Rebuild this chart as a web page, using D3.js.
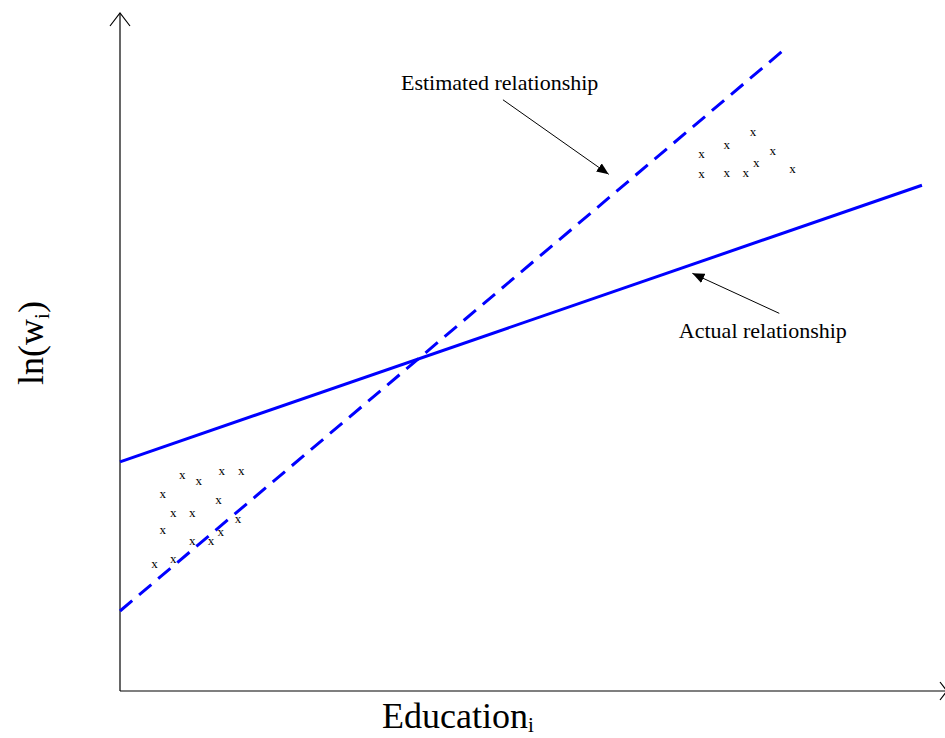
<!DOCTYPE html>
<html>
<head>
  <script src="https://d3js.org/d3.v7.min.js"></script>
  <style>
    body { margin: 0; background: white; }
    svg { display: block; }
    text { font-family: "Liberation Serif", "Times New Roman", serif; fill: #000; }
  </style>
</head>
<body>
  <svg width="945" height="738"></svg>
  <script>
  // data (abstract units: education 0..10, ln(w) 0..10)
  const lowEdu = [0.42, 0.65, 0.52, 0.88, 1.11, 1.23, 1.44, 0.65, 0.88, 1.20, 0.52, 0.76, 0.96, 1.24, 1.48];
  const lowWage = [1.87, 1.94, 2.37, 2.21, 2.21, 2.35, 2.53, 2.63, 2.63, 2.81, 2.91, 3.19, 3.09, 3.25, 3.25];
  const highEdu = [7.72, 7.40, 7.09, 7.96, 7.76, 7.09, 7.40, 7.63, 8.20];
  const highWage = [8.24, 8.06, 7.92, 7.96, 7.79, 7.62, 7.64, 7.64, 7.70];

  const actualLine = [[0, 3.38], [9.78, 7.46]];
  const estimatedLine = [[0, 1.18], [8.09, 9.45]];

  const labels = ["Estimated relationship", "Actual relationship"];
  const labelPos = [[4.63, 8.87], [7.84, 5.21]];
  const arrowFrom = [[4.67, 8.72], [8.04, 5.57]];
  const arrowTo = [[5.96, 7.62], [6.98, 6.16]];

  const svg = d3.select("svg");
  const x = d3.scaleLinear().domain([0, 10]).range([120, 940]);
  const y = d3.scaleLinear().domain([0, 10]).range([691, 13]);

  const defs = svg.append("defs");
  defs.append("marker")
    .attr("id", "head")
    .attr("viewBox", "0 0 12 10")
    .attr("refX", 12).attr("refY", 5)
    .attr("markerWidth", 12).attr("markerHeight", 10)
    .attr("markerUnits", "userSpaceOnUse")
    .attr("orient", "auto")
    .append("path").attr("d", "M0,0 L12,5 L0,10 Z").attr("fill", "#000");

  // axes with open arrowheads
  const ax = svg.append("g").attr("stroke", "#000").attr("stroke-width", 1.2).attr("fill", "none");
  ax.append("line").attr("x1", x(0)).attr("y1", y(0)).attr("x2", x(0)).attr("y2", y(10));
  ax.append("path").attr("d", `M${x(0) - 10},${y(10) + 13} L${x(0)},${y(10)} L${x(0) + 10},${y(10) + 13}`);
  ax.append("line").attr("x1", x(0)).attr("y1", y(0)).attr("x2", x(10) + 6).attr("y2", y(0));
  ax.append("path").attr("d", `M${x(10)},${y(0) - 9} L${x(10) + 7},${y(0)} L${x(10)},${y(0) + 9}`);

  const line = d3.line().x(d => x(d[0])).y(d => y(d[1]));

  svg.append("path").datum(actualLine).attr("d", line)
    .attr("stroke", "#0000ff").attr("stroke-width", 3).attr("fill", "none");
  svg.append("path").datum(estimatedLine).attr("d", line)
    .attr("stroke", "#0000ff").attr("stroke-width", 3).attr("fill", "none")
    .attr("stroke-dasharray", "16,9");

  // scatter of x marks
  const pts = lowEdu.map((e, i) => [e, lowWage[i]])
    .concat(highEdu.map((e, i) => [e, highWage[i]]));
  svg.append("g").selectAll("text").data(pts).enter().append("text")
    .attr("x", d => x(d[0])).attr("y", d => y(d[1]) + 4)
    .attr("text-anchor", "middle").attr("font-size", "13px")
    .text("x");

  // annotations
  svg.append("g").selectAll("line").data(arrowFrom).enter().append("line")
    .attr("x1", d => x(d[0])).attr("y1", d => y(d[1]))
    .attr("x2", (d, i) => x(arrowTo[i][0])).attr("y2", (d, i) => y(arrowTo[i][1]))
    .attr("stroke", "#000").attr("stroke-width", 1)
    .attr("marker-end", "url(#head)");
  svg.append("g").selectAll("text").data(labels).enter().append("text")
    .attr("x", (d, i) => x(labelPos[i][0])).attr("y", (d, i) => y(labelPos[i][1]))
    .attr("text-anchor", "middle").attr("font-size", "22px")
    .text(d => d);

  // axis titles
  const xt = svg.append("text").attr("x", 458).attr("y", 728)
    .attr("text-anchor", "middle").attr("font-size", "36px");
  xt.append("tspan").text("Education");
  xt.append("tspan").attr("font-size", "21px").attr("dy", 4).text("i");

  const yt = svg.append("text").attr("transform", "translate(43,343) rotate(-90)")
    .attr("text-anchor", "middle").attr("font-size", "36px");
  yt.append("tspan").text("ln(w");
  yt.append("tspan").attr("font-size", "21px").attr("dy", 6).text("i");
  yt.append("tspan").attr("dy", -6).text(")");
  </script>
</body>
</html>
